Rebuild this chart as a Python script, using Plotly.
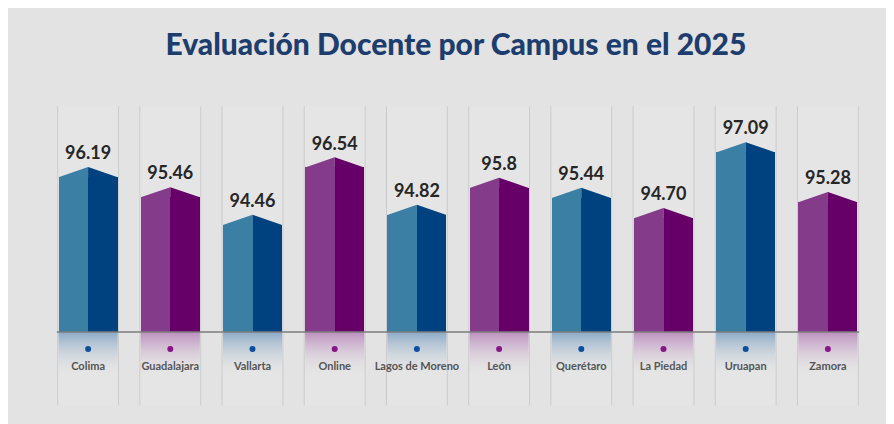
import plotly.graph_objects as go

# datos de la evaluación docente por campus
campus = ["Colima", "Guadalajara", "Vallarta", "Online", "Lagos de Moreno",
          "León", "Querétaro", "La Piedad", "Uruapan", "Zamora"]
scores = [96.19, 95.46, 94.46, 96.54, 94.82, 95.8, 95.44, 94.70, 97.09, 95.28]
score_labels = ["96.19", "95.46", "94.46", "96.54", "94.82",
                "95.8", "95.44", "94.70", "97.09", "95.28"]
group = ["azul", "morado", "azul", "morado", "azul",
         "morado", "azul", "morado", "azul", "morado"]

BASE = 90.57      # valor donde arrancan las columnas
ROOF = 0.36       # altura del techo en pico
HALF = 0.36       # media anchura de la columna

colors = {
    "azul": dict(light="#3b7fa4", dark="#00427f", dot="#0d4f9b",
                 glow="rgba(110,150,190,0.75)", fade="rgba(227,227,227,0)"),
    "morado": dict(light="#843c8a", dark="#660068", dot="#871489",
                   glow="rgba(160,85,165,0.6)", fade="rgba(227,227,227,0)"),
}

xs = list(range(len(campus)))
fig = go.Figure()

# cuerpo de las columnas: mitad clara y mitad oscura
fig.add_trace(go.Bar(
    x=[i - HALF / 2 for i in xs], y=[s - BASE for s in scores], base=BASE,
    width=HALF, marker_color=[colors[g]["light"] for g in group],
    marker_line_width=0, hoverinfo="skip"))
fig.add_trace(go.Bar(
    x=[i + HALF / 2 for i in xs], y=[s - BASE for s in scores], base=BASE,
    width=HALF, marker_color=[colors[g]["dark"] for g in group],
    marker_line_width=0, hoverinfo="skip"))

# techos triangulares y brillo bajo la base
for g, c in colors.items():
    lx, ly, rx, ry, gx, gy = [], [], [], [], [], []
    for i, s, gg in zip(xs, scores, group):
        if gg != g:
            continue
        lx += [i - HALF, i, i, None]
        ly += [s - 0.01, s + ROOF, s - 0.01, None]
        rx += [i, i, i + HALF, None]
        ry += [s - 0.01, s + ROOF, s - 0.01, None]
        gx += [i - HALF, i + HALF, i + HALF, i - HALF, None]
        gy += [BASE, BASE, BASE - 1.6, BASE - 1.6, None]
    fig.add_trace(go.Scatter(x=lx, y=ly, fill="toself", fillcolor=c["light"],
                             mode="none", hoverinfo="skip"))
    fig.add_trace(go.Scatter(x=rx, y=ry, fill="toself", fillcolor=c["dark"],
                             mode="none", hoverinfo="skip"))
    fig.add_trace(go.Scatter(
        x=gx, y=gy, fill="toself", mode="none", hoverinfo="skip",
        fillgradient=dict(type="vertical",
                          colorscale=[[0, c["fade"]], [1, c["glow"]]])))

# puntos y nombres de campus
fig.add_trace(go.Scatter(
    x=xs, y=[BASE - 0.62] * len(xs), mode="markers",
    marker=dict(size=6, color=[colors[g]["dot"] for g in group]),
    hoverinfo="skip"))
fig.add_trace(go.Scatter(
    x=xs, y=[BASE - 1.27] * len(xs), mode="text", text=campus,
    textfont=dict(family="Lato", size=11, color="#555555", weight="bold"),
    hoverinfo="skip"))

# valores
fig.add_trace(go.Scatter(
    x=xs, y=[s + ROOF + 0.12 for s in scores], mode="text", text=score_labels,
    textposition="top center",
    textfont=dict(family="Lato", size=18, color="#262626", weight="bold"),
    hoverinfo="skip"))

# tubos de fondo
shapes = []
for i in xs:
    shapes.append(dict(type="rect", x0=i - HALF - 0.01, x1=i + HALF + 0.01,
                       yref="paper", y0=0.015, y1=0.98,
                       fillcolor="rgba(255,255,255,0.1)", line_width=0,
                       layer="below"))
    for side in (-1, 1):
        shapes.append(dict(type="line", x0=i + side * (HALF + 0.01),
                           x1=i + side * (HALF + 0.01),
                           yref="paper", y0=0.015, y1=0.98,
                           line=dict(color="rgba(150,150,150,0.3)", width=1),
                           layer="below"))
shapes.append(dict(type="line", x0=-0.38, x1=9.38, y0=BASE, y1=BASE,
                   line=dict(color="#7c7c7c", width=1.5), layer="above"))

fig.update_layout(
    width=894, height=424,
    margin=dict(l=39, r=33, t=92, b=22),
    paper_bgcolor="#e3e3e3", plot_bgcolor="rgba(0,0,0,0)",
    showlegend=False, barmode="overlay", bargap=0,
    title=dict(text="Evaluación Docente por Campus en el 2025",
               x=0.501, xanchor="center", y=0.913, yanchor="middle",
               font=dict(family="Lato", size=30, color="#1c3d6e", weight=900)),
    xaxis=dict(range=[-0.5, 9.5], visible=False, fixedrange=True),
    yaxis=dict(range=[87.74, 98.98], visible=False, fixedrange=True),
    shapes=shapes,
)

fig.write_html("out.html")
